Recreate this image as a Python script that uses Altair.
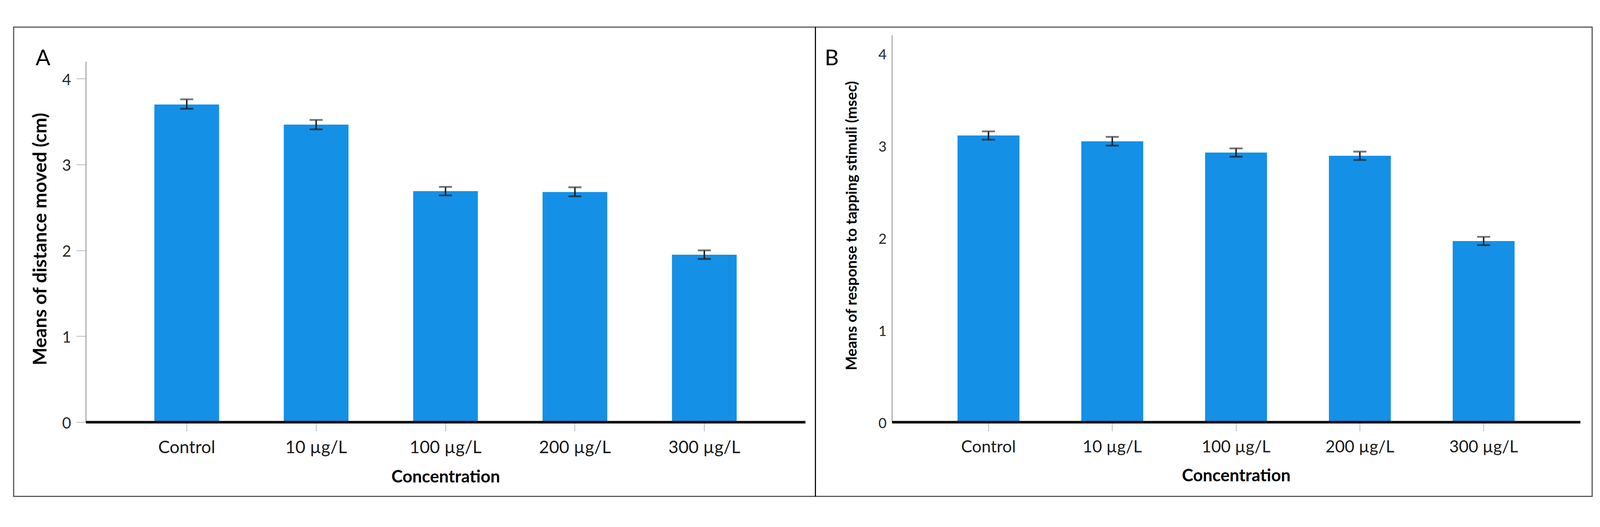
import altair as alt
import pandas as pd

# ---------------- data ----------------
categories = ["Control", "10 µg/L", "100 µg/L", "200 µg/L", "300 µg/L"]

a_mean = [3.70, 3.465, 2.69, 2.68, 1.95]
a_lo = [3.65, 3.41, 2.64, 2.63, 1.90]
a_hi = [3.76, 3.52, 2.74, 2.735, 2.00]

b_mean = [3.11, 3.047, 2.925, 2.89, 1.965]
b_lo = [3.065, 3.00, 2.88, 2.845, 1.92]
b_hi = [3.155, 3.095, 2.97, 2.935, 2.01]

y_ticks = [0, 1, 2, 3, 4]

title_a = "Means of distance moved (cm)"
title_b = "Means of response to tapping stimuli (msec)"
x_title = "Concentration"

dfA = pd.DataFrame({"conc": categories, "mean": a_mean, "lo": a_lo, "hi": a_hi})
dfB = pd.DataFrame({"conc": categories, "mean": b_mean, "lo": b_lo, "hi": b_hi})
one = pd.DataFrame({"k": [0]})

FONT = "Lato"
BAR = "#1490E6"
ERR = "#1c1c1c"


def panel(df, xrange, yrange, yoffset, ytitle, ytitle_x, ytitle_y, ytitle_size,
          ylab_size, yticks_on, xlab_size, xtitle_x, xtitle_y):
    x = alt.X(
        "conc:N", sort=categories,
        scale=alt.Scale(domain=categories, range=xrange, paddingInner=0.5, paddingOuter=0.53),
        axis=alt.Axis(
            orient="bottom", title=x_title, labelAngle=0, zindex=1, labelLimit=0,
            domainColor="black", domainWidth=7,
            tickColor="#b5b5b5", tickSize=25, tickWidth=2,
            labelFont=FONT, labelFontSize=xlab_size, labelColor="#1a1a1a", labelPadding=22,
            titleFont=FONT, titleFontSize=47, titleFontWeight="bold", titleColor="black",
            titleX=xtitle_x, titleY=xtitle_y, titleAlign="center", titleBaseline="middle",
        ),
    )
    yaxis = alt.Axis(
        orient="left", offset=yoffset, values=y_ticks, format="d", grid=False, title=ytitle,
        domainColor="#9a9a9a", domainWidth=2.5,
        ticks=yticks_on, tickColor="#b5b5b5", tickSize=26, tickWidth=2,
        labelFont=FONT, labelFontSize=ylab_size, labelColor="#262626", labelPadding=15,
        labelOffset=4,
        titleFont=FONT, titleFontSize=ytitle_size, titleFontWeight="bold", titleColor="black",
        titleX=ytitle_x, titleY=ytitle_y, titleAngle=270, titleAlign="center", titleBaseline="middle",
    )
    yscale = alt.Scale(domain=[0, 4.2], range=yrange, nice=False, zero=True)
    base = alt.Chart(df)
    bars = base.mark_bar(color=BAR).encode(
        x=x, y=alt.Y("mean:Q", scale=yscale, axis=yaxis)
    )
    stem = base.mark_rule(color=ERR, strokeWidth=4).encode(
        x=x, y=alt.Y("lo:Q", scale=yscale), y2="hi:Q"
    )
    cap_lo = base.mark_tick(color=ERR, size=36, thickness=5).encode(
        x=x, y=alt.Y("lo:Q", scale=yscale)
    )
    cap_hi = base.mark_tick(color="#3a3a3a", size=36, thickness=5).encode(
        x=x, y=alt.Y("hi:Q", scale=yscale)
    )
    return [bars, stem, cap_lo, cap_hi]


layersA = panel(dfA, [228, 2212], [1104, 110], -228, title_a, -125, 599, 52,
                43, True, 48, 1220, 152)
layersB = panel(dfB, [2451, 4349], [1104, 37], -2451, title_b, -110, 562, 41,
                39, False, 46, 3400, 149)

frame = alt.Chart(one).mark_rect(fillOpacity=0, stroke="#4d4d4d", strokeWidth=3).encode(
    x=alt.value(29), x2=alt.value(4382), y=alt.value(15), y2=alt.value(1309)
)
divider = alt.Chart(one).mark_rule(color="black", strokeWidth=3).encode(
    x=alt.value(2240), y=alt.value(15), y2=alt.value(1309)
)
letterA = alt.Chart(one).mark_text(text="A", font=FONT, fontSize=60, color="black",
                                   align="center", baseline="middle").encode(
    x=alt.value(110), y=alt.value(102)
)
letterB = alt.Chart(one).mark_text(text="B", font=FONT, fontSize=60, color="black",
                                   align="center", baseline="middle").encode(
    x=alt.value(2285), y=alt.value(102)
)

A = alt.layer(*layersA, frame, divider, letterA)
B = alt.layer(*layersB, letterB)

chart = (
    alt.layer(A, B)
    .resolve_scale(x="independent", y="independent")
    .properties(
        width=4395, height=1104,
        padding={"left": 0, "top": 0, "right": 0, "bottom": 220},
        autosize=alt.AutoSizeParams(type="none"),
        background="white",
    )
    .configure_view(stroke=None)
)

chart.save("out.html", embed_options={"renderer": "svg", "actions": False})
